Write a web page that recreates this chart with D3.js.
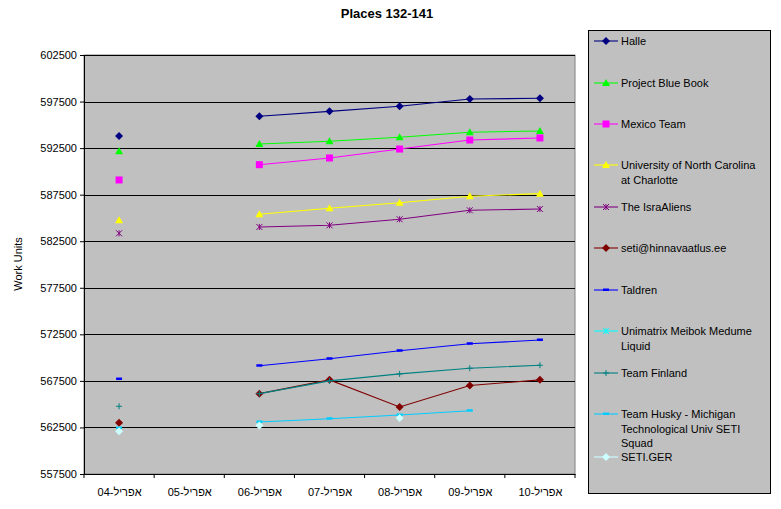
<!DOCTYPE html>
<html><head><meta charset="utf-8">
<script src="https://cdn.jsdelivr.net/npm/d3@7"></script>
<style>body{margin:0;background:#fff;font-family:Arial,"Liberation Sans",sans-serif;}</style>
</head><body><svg id="chart"></svg>
<script>
const size = {w: 781, h: 509};
const plot = {l: 84, r: 575, t: 55, b: 474};

const dates = ['אפריל-04','אפריל-05','אפריל-06','אפריל-07','אפריל-08','אפריל-09','אפריל-10'];
const yTicks = [557500,562500,567500,572500,577500,582500,587500,592500,597500,602500];

const halle = [593800,null,595920,596450,596990,597770,597850];
const blueBook = [592160,null,592940,593230,593660,594200,594340];
const mexico = [589080,null,590720,591440,592400,593370,593590];
const unc = [584750,null,585400,586040,586640,587330,587610];
const israAliens = [583350,null,584030,584210,584860,585820,585960];
const seti = [563010,null,566130,567610,564700,567000,567610];
const taldren = [567700,null,569130,569880,570740,571490,571890];
const unimatrix = [null,null,null,null,null,null,null];
const finland = [564770,null,566130,567500,568250,568860,569180];
const husky = [562440,null,563090,563440,563840,564300,null];
const setiGer = [562090,null,562700,null,563520,null,null];

const series = [
  {name:['Halle'], vals:halle, color:'#000080', mark:'diamond'},
  {name:['Project Blue Book'], vals:blueBook, color:'#00FF00', mark:'triangle'},
  {name:['Mexico Team'], vals:mexico, color:'#FF00FF', mark:'square'},
  {name:['University of North Carolina','at Charlotte'], vals:unc, color:'#FFFF00', mark:'triangle'},
  {name:['The IsraAliens'], vals:israAliens, color:'#800080', mark:'star'},
  {name:['seti@hinnavaatlus.ee'], vals:seti, color:'#800000', mark:'diamond'},
  {name:['Taldren'], vals:taldren, color:'#0000FF', mark:'dash'},
  {name:['Unimatrix Meibok Medume','Liquid'], vals:unimatrix, color:'#00FFFF', mark:'star'},
  {name:['Team Finland'], vals:finland, color:'#008080', mark:'plus'},
  {name:['Team Husky - Michigan','Technological Univ SETI','Squad'], vals:husky, color:'#00CCFF', mark:'dash'},
  {name:['SETI.GER'], vals:setiGer, color:'#CCFFFF', mark:'diamond'}
];
const legendY = [41,83,124,165,207,248,290,331,373,414,457];

const svg = d3.select('svg#chart').attr('width', size.w).attr('height', size.h);

const x = d3.scalePoint().domain(dates).range([plot.l, plot.r]).padding(0.5);
const y = d3.scaleLinear().domain([557500, 602500]).range([plot.b, plot.t]);

svg.append('rect').attr('x', plot.l).attr('y', plot.t)
  .attr('width', plot.r - plot.l).attr('height', plot.b - plot.t)
  .attr('fill', '#C0C0C0').attr('stroke', '#808080');

svg.append('g').selectAll('line').data(yTicks.slice(1)).join('line')
  .attr('x1', plot.l).attr('x2', plot.r)
  .attr('y1', d => Math.round(y(d)) + 0.5).attr('y2', d => Math.round(y(d)) + 0.5)
  .attr('stroke', '#000');

const yAxis = svg.append('g').attr('transform', `translate(${plot.l},0)`)
  .call(d3.axisLeft(y).tickValues(yTicks).tickSize(4).tickFormat(d3.format('d')));
const band = (plot.r - plot.l) / dates.length;
const xAxis = svg.append('g').attr('transform', `translate(0,${plot.b})`)
  .call(d3.axisBottom(x).tickSize(0).tickPadding(14));
svg.append('g').selectAll('line').data(d3.range(dates.length + 1)).join('line')
  .attr('x1', i => plot.l + i * band).attr('x2', i => plot.l + i * band)
  .attr('y1', plot.b).attr('y2', plot.b + 4).attr('stroke', '#000');
[yAxis, xAxis].forEach(a => {
  a.selectAll('text').attr('font-size', 11).attr('fill', '#000').attr('font-family', 'Arial, Liberation Sans');
  a.selectAll('path,line').attr('stroke', '#000');
});

svg.append('text').attr('x', 387).attr('y', 18).attr('text-anchor', 'middle')
  .attr('font-size', 13).attr('font-weight', 'bold').text('Places 132-141');
svg.append('text').attr('transform', 'translate(22,264) rotate(-90)')
  .attr('text-anchor', 'middle').attr('font-size', 11).text('Work Units');

function drawMark(g, m, color, cx, cy) {
  if (m === 'diamond') g.append('path').attr('d', `M${cx},${cy-4}L${cx+4},${cy}L${cx},${cy+4}L${cx-4},${cy}Z`).attr('fill', color);
  else if (m === 'triangle') g.append('path').attr('d', `M${cx},${cy-4}L${cx+4},${cy+3}L${cx-4},${cy+3}Z`).attr('fill', color);
  else if (m === 'square') g.append('rect').attr('x', cx-3.5).attr('y', cy-3.5).attr('width', 7).attr('height', 7).attr('fill', color);
  else if (m === 'dash') g.append('rect').attr('x', cx-3).attr('y', cy-1.5).attr('width', 6).attr('height', 2.5).attr('fill', color);
  else if (m === 'plus') g.append('path').attr('d', `M${cx-3},${cy}H${cx+3}M${cx},${cy-3}V${cy+3}`).attr('stroke', color);
  else if (m === 'star') g.append('path').attr('d', `M${cx-3},${cy-3}L${cx+3},${cy+3}M${cx+3},${cy-3}L${cx-3},${cy+3}M${cx},${cy-3}V${cy+3}`).attr('stroke', color);
}

const line = d3.line().defined(d => d.v != null).x(d => x(d.k)).y(d => y(d.v));
series.forEach(s => {
  const pts = s.vals.map((v, i) => ({k: dates[i], v}));
  const g = svg.append('g');
  g.append('path').datum(pts).attr('d', line).attr('fill', 'none').attr('stroke', s.color).attr('stroke-width', 1.1);
  pts.filter(p => p.v != null).forEach(p => drawMark(g, s.mark, s.color, x(p.k), y(p.v)));
});

svg.append('rect').attr('x', 588.5).attr('y', 30.5).attr('width', 182).attr('height', 463)
  .attr('fill', '#C0C0C0').attr('stroke', '#000');
series.forEach((s, i) => {
  const ly = legendY[i];
  const g = svg.append('g');
  g.append('line').attr('x1', 594).attr('x2', 618).attr('y1', ly).attr('y2', ly).attr('stroke', s.color).attr('stroke-width', 1.1);
  drawMark(g, s.mark, s.color, 606, ly);
  s.name.forEach((t, j) => g.append('text').attr('x', 621).attr('y', ly + 4 + j * 14.5)
    .attr('font-size', 11).text(t));
});
</script></body></html>
